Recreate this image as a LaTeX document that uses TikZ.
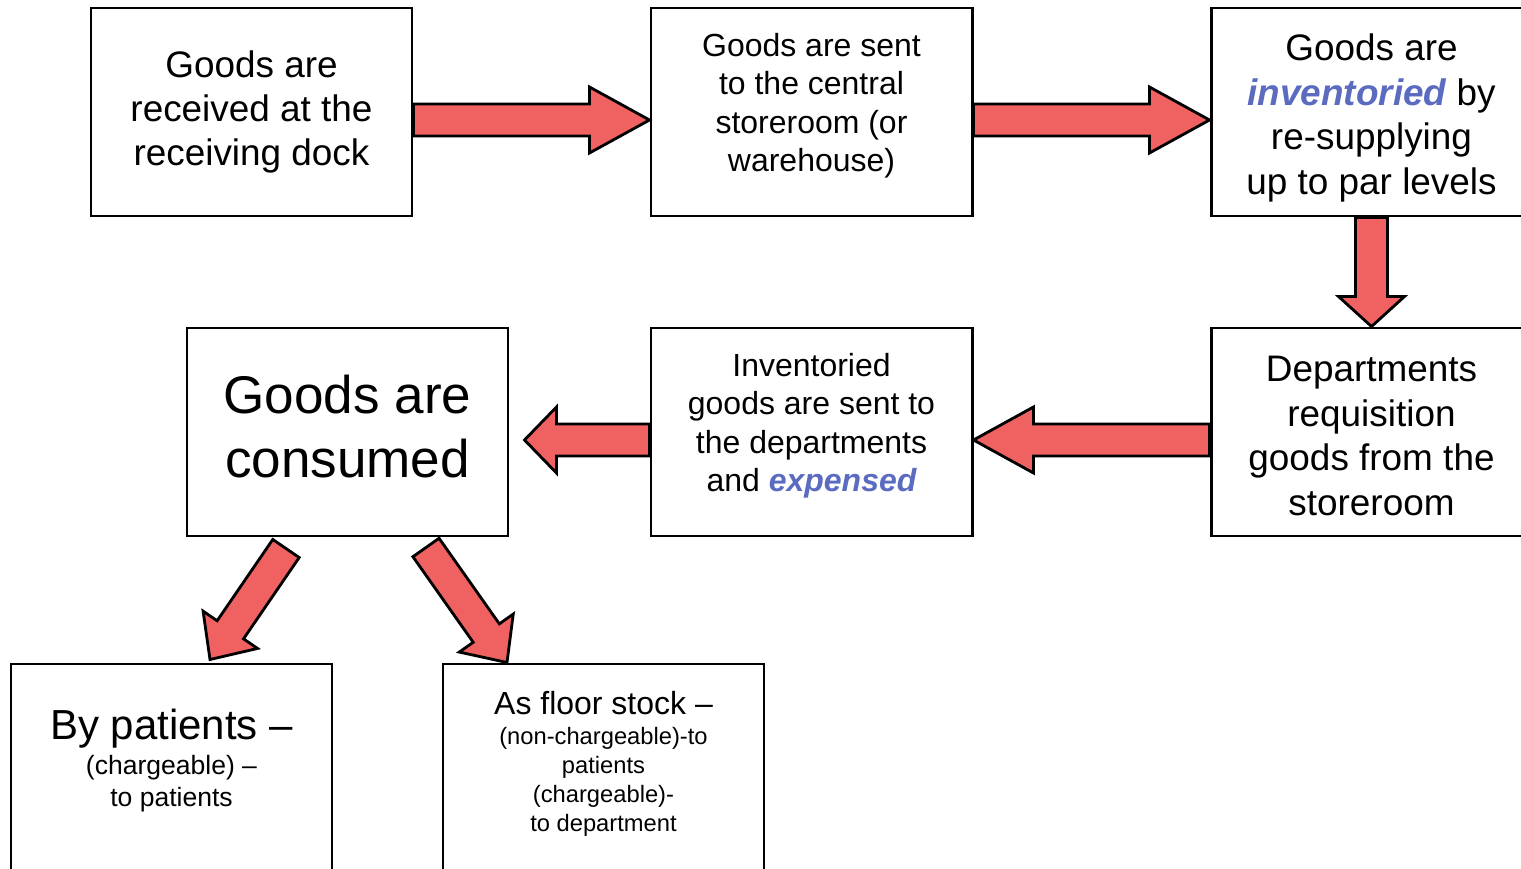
\documentclass[tikz,border=0pt]{standalone}
\usepackage{fontspec}
\setmainfont{Liberation Sans}
\usetikzlibrary{calc,positioning}
\definecolor{arrowred}{RGB}{240,98,98}
\definecolor{textblue}{RGB}{90,107,192}
\tikzset{
  box/.style={draw, line width=1.7pt, fill=white, minimum width=6.42cm, minimum height=4.16cm, align=center, inner sep=0pt},
  fatarrow/.style={draw=black, fill=arrowred, line width=1.6pt, line join=miter},
  txtA/.style={font=\fontsize{21}{25.3}\selectfont},
  txtB/.style={font=\fontsize{18.2}{21.9}\selectfont},
  txtC/.style={font=\fontsize{30.2}{36.2}\selectfont},
  txtD/.style={font=\fontsize{15.1}{18.2}\selectfont},
  txtE/.style={font=\fontsize{13.5}{16.5}\selectfont},
}
\newcommand{\hl}[1]{\textcolor{textblue}{\bfseries\itshape #1}}
% struts to nudge the text block up or down
\newcommand{\lowstrut}[1]{\rule[-#1]{0pt}{#1}}
\newcommand{\highstrut}[1]{\rule{0pt}{#1}}
% block arrow: [head length]{tail}{tip}
\newcommand{\blockarrow}[3][1.2cm]{%
  \coordinate (tail) at (#2);
  \coordinate (tip) at (#3);
  \coordinate (neck) at ($(tip)!#1!(tail)$);
  \draw[fatarrow] ($(tail)!0.32cm!90:(tip)$) -- ($(neck)!0.32cm!90:(tip)$) -- ($(neck)!0.66cm!90:(tip)$) -- (tip)
    -- ($(neck)!0.66cm!-90:(tip)$) -- ($(neck)!0.32cm!-90:(tip)$) -- ($(tail)!0.32cm!-90:(tip)$) -- cycle;
}
\begin{document}
\begin{tikzpicture}
\useasboundingbox (-5.03,-15.14) rectangle (25.39,2.24);
\node[box, txtA] (R) {Goods are\\received at the\\receiving dock};
\node[box, txtB, xshift=11.2cm] (W) {Goods are sent\\to the central\\storeroom (or\\warehouse)\lowstrut{0.38cm}};
\node[box, txtA, xshift=22.4cm] (I) {\highstrut{0.78cm}Goods are\\\hl{inventoried} by\\re-supplying\\up to par levels};
%============
\node[box, txtC, xshift=1.92cm, yshift=-6.4cm] (C) {Goods are\\consumed\lowstrut{0.22cm}};
\node[box, txtB, xshift=11.2cm, yshift=-6.4cm] (E) {Inventoried\\goods are sent to\\the departments\\and \hl{expensed}\lowstrut{0.38cm}};
\node[box, txtA, xshift=22.4cm, yshift=-6.4cm] (D) {\highstrut{0.66cm}Departments\\requisition\\goods from the\\storeroom};
%============
\node[box, txtD, xshift=-1.6cm, yshift=-13.12cm] (P) {{\fontsize{23.9}{28}\selectfont By patients --}\\[2pt](chargeable) --\\to patients\lowstrut{0.41cm}};
\node[box, txtE, xshift=7.04cm, yshift=-13.12cm] (F) {{\fontsize{18.2}{21.9}\selectfont As floor stock --}\\[1pt](non-chargeable)-to\\patients\\(chargeable)-\\to department\lowstrut{0.26cm}};
%==========

\blockarrow{[yshift=-0.16cm]R.east}{[yshift=-0.16cm]W.west}
\blockarrow{[yshift=-0.16cm]W.east}{[yshift=-0.16cm]I.west}
\blockarrow[0.6cm]{I.south}{D.north}
\blockarrow{[yshift=-0.16cm]D.west}{[yshift=-0.16cm]E.east}
\blockarrow[0.64cm]{[yshift=-0.16cm]E.west}{[xshift=0.3cm, yshift=-0.16cm]C.east}
\blockarrow[0.72cm]{[xshift=-1.23cm, yshift=-0.22cm]C.south}{[xshift=0.77cm, yshift=0.06cm]P.north}
\blockarrow[0.72cm]{[xshift=1.57cm, yshift=-0.2cm]C.south}{[xshift=-1.93cm]F.north}
\end{tikzpicture}
\end{document}
